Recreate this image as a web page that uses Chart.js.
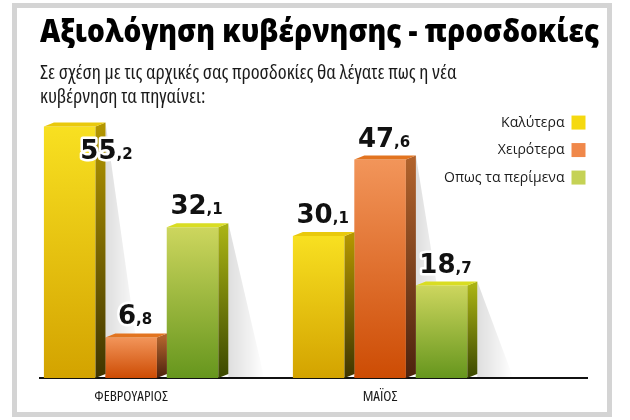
<!DOCTYPE html>
<html>
<head>
<meta charset="utf-8">
<script src="https://cdn.jsdelivr.net/npm/chart.js@4.4.1/dist/chart.umd.min.js"></script>
<style>
  html, body { margin: 0; padding: 0; background: #fff; }
  #wrap { position: relative; width: 630px; height: 420px; }
  #frame { position: absolute; left: 12px; top: 3px; width: 600px; height: 414px; box-sizing: border-box; border: 5px solid #d4d4d4; }
  #chart { position: absolute; left: 0; top: 0; }
</style>
</head>
<body>
<div id="wrap">
  <div id="frame"></div>
  <canvas id="chart" width="630" height="420"></canvas>
</div>
<script>
const months = ['ΦΕΒΡΟΥΑΡΙΟΣ', 'ΜΑΪΟΣ'];
const seriesNames = ['Καλύτερα', 'Χειρότερα', 'Οπως τα περίμενα'];
const better = [55.2, 30.1];
const worse = [6.8, 47.6];
const asExpected = [32.1, 18.7];
const seriesValues = [better, worse, asExpected];

const titleText = 'Αξιολόγηση κυβέρνησης - προσδοκίες';
const subtitleLines = [
    'Σε σχέση με τις αρχικές σας προσδοκίες θα λέγατε πως η νέα',
    'κυβέρνηση τα πηγαίνει:',
];

// colours per series: front gradient, side gradient, top cap, legend swatch
const looks = [
    { legend: '#f5d90f', top: '#f8e021', bottom: '#d3a300', side: ['#b39600', '#3f3500'], cap: '#e9c90c' },
    { legend: '#f0884a', top: '#f2955a', bottom: '#cd4c04', side: ['#b0622c', '#4d230e'], cap: '#e27420' },
    { legend: '#c5d255', top: '#cdd65e', bottom: '#66961d', side: ['#a9b214', '#3b4800'], cap: '#d9dd22' },
];

const BASE = -2.5;      // value at the drawn baseline
const DX = 10, DY = 4;  // 3d depth
const sans = "'Open Sans', 'Noto Sans', sans-serif";

function frontFill(s) {
    return (c) => {
        const look = looks[s];
        const chart = c.chart;
        if (c.type !== 'data' || !c.parsed || !chart.chartArea) return look.legend;
        const ys = chart.scales.y;
        const g = chart.ctx.createLinearGradient(0, ys.getPixelForValue(c.parsed.y), 0, ys.getPixelForValue(BASE));
        g.addColorStop(0, look.top);
        g.addColorStop(1, look.bottom);
        return g;
    };
}

function eachBar(chart, fn) {
    chart.data.datasets.forEach((ds, s) => {
        chart.getDatasetMeta(s).data.forEach((bar, i) => fn(bar, s, i));
    });
}

const bars3d = {
    id: 'bars3d',
    afterLayout(chart) {
        // legend keeps its right edge but gets room to the left so its texts are not clipped
        const lg = chart.legend;
        if (lg) {
            lg.left = lg.right - 220;
            lg.width = 220;
        }
    },
    beforeDatasetsDraw(chart) {
        const ctx = chart.ctx;
        ctx.save();
        eachBar(chart, (bar) => {
            const r = bar.x + bar.width / 2 + DX;
            const g = ctx.createLinearGradient(r, 0, r + 36, 0);
            g.addColorStop(0, 'rgba(0,0,0,0.13)');
            g.addColorStop(1, 'rgba(0,0,0,0)');
            ctx.fillStyle = g;
            ctx.beginPath();
            ctx.moveTo(r, bar.y - DY);
            ctx.lineTo(r + 36, bar.base);
            ctx.lineTo(r, bar.base);
            ctx.closePath();
            ctx.fill();
        });
        ctx.restore();
    },
    afterDatasetsDraw(chart) {
        const ctx = chart.ctx;
        ctx.save();
        eachBar(chart, (bar, s) => {
            const look = looks[s];
            const l = bar.x - bar.width / 2;
            const r = bar.x + bar.width / 2;
            const side = ctx.createLinearGradient(0, bar.y, 0, bar.base);
            side.addColorStop(0, look.side[0]);
            side.addColorStop(1, look.side[1]);
            ctx.fillStyle = side;
            ctx.beginPath();
            ctx.moveTo(r, bar.y);
            ctx.lineTo(r + DX, bar.y - DY);
            ctx.lineTo(r + DX, bar.base - DY);
            ctx.lineTo(r, bar.base);
            ctx.closePath();
            ctx.fill();

            ctx.fillStyle = look.cap;
            ctx.beginPath();
            ctx.moveTo(l, bar.y);
            ctx.lineTo(l + DX, bar.y - DY);
            ctx.lineTo(r + DX, bar.y - DY);
            ctx.lineTo(r, bar.y);
            ctx.closePath();
            ctx.fill();
        });

        // value labels: big integer part, small decimals
        const big = "bold 26px 'DejaVu Sans', sans-serif";
        const small = "bold 15px 'DejaVu Sans', sans-serif";
        ctx.textBaseline = 'alphabetic';
        ctx.textAlign = 'left';
        ctx.lineJoin = 'round';
        ctx.lineWidth = 5;
        ctx.strokeStyle = '#fff';
        ctx.fillStyle = '#111';
        eachBar(chart, (bar, s, i) => {
            const parts = String(seriesValues[s][i]).split('.');
            const a = parts[0];
            const b = ',' + (parts[1] || '0');
            ctx.font = big;
            const w1 = ctx.measureText(a).width;
            ctx.font = small;
            const w2 = ctx.measureText(b).width;
            let cx = bar.x + 4;
            let by = bar.y - 13;
            if (by - 22 < chart.chartArea.top) {
                cx = bar.x + bar.width / 2 + 11;
                by = bar.y + 33;
            }
            const x0 = cx - (w1 + w2) / 2;
            ctx.font = big;
            ctx.strokeText(a, x0, by);
            ctx.fillText(a, x0, by);
            ctx.font = small;
            ctx.strokeText(b, x0 + w1, by);
            ctx.fillText(b, x0 + w1, by);
        });
        ctx.restore();
    },
};

new Chart(document.getElementById('chart'), {
    type: 'bar',
    data: {
        datasets: seriesValues.map((vals, s) => ({
            label: seriesNames[s],
            data: vals.map((v, i) => ({ x: i, y: v })),
            base: BASE,
            backgroundColor: frontFill(s),
            borderWidth: 0,
            barPercentage: 0.84,
            categoryPercentage: 0.74,
        })),
    },
    options: {
        responsive: false,
        animation: false,
        events: [],
        layout: { padding: { left: 40, right: 31, top: 0, bottom: 4 } },
        plugins: {
            title: {
                display: true,
                text: titleText,
                align: 'start',
                color: '#000',
                font: { family: sans, weight: '800', size: 31, lineHeight: 1.2 },
                padding: { top: 14.9, bottom: 0 },
            },
            subtitle: {
                display: true,
                text: subtitleLines,
                align: 'start',
                color: '#1a1a1a',
                font: { family: sans, weight: 'normal condensed', size: 20.2, lineHeight: 1.15 },
                padding: { top: 10, bottom: -6.5 },
            },
            legend: {
                position: 'right',
                align: 'start',
                fullSize: false,
                rtl: true,
                maxWidth: 12,
                labels: {
                    boxWidth: 14,
                    boxHeight: 14,
                    padding: 13.5,
                    color: '#1a1a1a',
                    font: { family: sans, size: 14 },
                    generateLabels: (chart) => Chart.defaults.plugins.legend.labels.generateLabels(chart)
                        .map((item, i) => Object.assign(item, { fillStyle: looks[i].legend, lineWidth: 0 })),
                },
            },
            tooltip: { enabled: false },
        },
        scales: {
            x: {
                type: 'linear',
                offset: false,
                min: -0.366,
                max: 1.831,
                grid: { display: false, drawTicks: false },
                border: { display: true, color: '#111', width: 2 },
                ticks: {
                    stepSize: 1,
                    includeBounds: false,
                    autoSkip: false,
                    maxRotation: 0,
                    padding: 10,
                    color: '#1a1a1a',
                    font: { family: sans, weight: 'normal semi-condensed', size: 15 },
                    callback: (v) => months[v] ?? '',
                },
            },
            y: {
                display: false,
                min: BASE,
                max: 60.8,
            },
        },
    },
    plugins: [bars3d],
});
</script>
</body>
</html>
